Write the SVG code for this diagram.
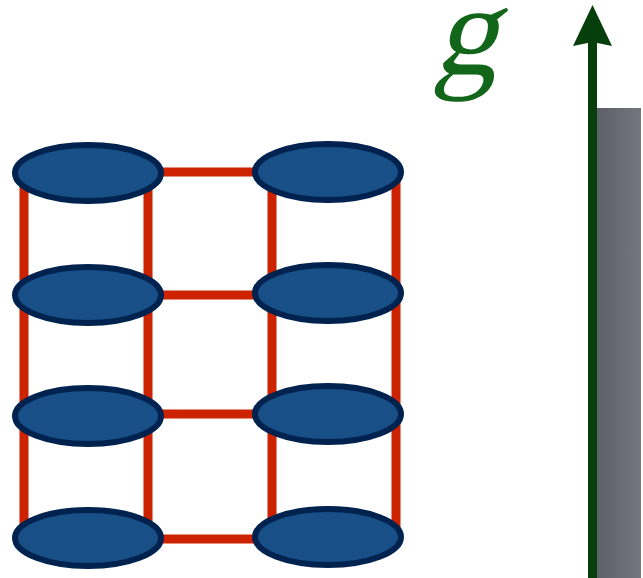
<svg xmlns="http://www.w3.org/2000/svg" width="643" height="578" viewBox="0 0 643 578">
<defs>
<linearGradient id="bar" x1="0" y1="0" x2="1" y2="0">
<stop offset="0" stop-color="#5c5f68"/>
<stop offset="1" stop-color="#75777f"/>
</linearGradient>
<style>
.bond{stroke:#cc2200;stroke-width:9;fill:none}
.atom{fill:#174f86;stroke:#00224f;stroke-width:6}
</style>
</defs>
<rect x="597" y="108" width="44" height="470" fill="url(#bar)"/>
<g id="connectors">
<line class="bond" x1="24" y1="173" x2="24" y2="538"/>
<line class="bond" x1="148" y1="173" x2="148" y2="538"/>
<line class="bond" x1="272" y1="172" x2="272" y2="538"/>
<line class="bond" x1="396" y1="172" x2="396" y2="538"/>
<line class="bond" x1="148" y1="172" x2="272" y2="172"/>
<line class="bond" x1="148" y1="295" x2="272" y2="295"/>
<line class="bond" x1="148" y1="414" x2="272" y2="414"/>
<line class="bond" x1="148" y1="539" x2="272" y2="539"/>
</g>
<g id="a1"><ellipse class="atom" cx="88" cy="173" rx="73" ry="28"/></g>
<g id="a2"><ellipse class="atom" cx="88" cy="295" rx="73" ry="28"/></g>
<g id="a3"><ellipse class="atom" cx="88" cy="416" rx="73" ry="28"/></g>
<g id="a4"><ellipse class="atom" cx="88" cy="538" rx="73" ry="28"/></g>
<g id="b1"><ellipse class="atom" cx="328" cy="172" rx="73" ry="28"/></g>
<g id="b2"><ellipse class="atom" cx="328" cy="293" rx="73" ry="28"/></g>
<g id="b3"><ellipse class="atom" cx="328" cy="414" rx="73" ry="28"/></g>
<g id="b4"><ellipse class="atom" cx="328" cy="537" rx="73" ry="28"/></g>
<g id="gravity">
<line x1="592.5" y1="578" x2="592.5" y2="40" stroke="#063f0c" stroke-width="9"/>
<polygon points="592.5,5 573,46 592.5,42 612,46" fill="#063f0c"/>
<text transform="translate(433,74) skewX(-14)" x="0" y="0" font-family="Liberation Serif, serif" font-size="129" fill="#116619">g</text>
</g>
</svg>
